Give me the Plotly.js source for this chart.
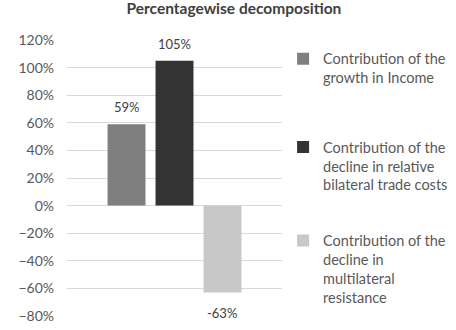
<!DOCTYPE html>
<html>
<head>
<meta charset="utf-8">
<script src="https://cdn.plot.ly/plotly-3.0.1.min.js"></script>
<style>
  html, body { margin: 0; padding: 0; background: #fff; }
  #chart { width: 456px; height: 330px; }
</style>
</head>
<body>
<div id="chart"></div>
<script>
// Percentagewise decomposition of trade growth
const seriesNames = [
  'Contribution of the<br>growth in Income',
  'Contribution of the<br>decline in relative<br>bilateral trade costs',
  'Contribution of the<br>decline in<br>multilateral<br>resistance'
];
const seriesValues = [0.59, 1.05, -0.63];
const seriesLabels = ['59%', '105%', '-63%'];
const seriesColors = ['#7f7f7f', '#333333', '#c8c8c8'];
const yTickValues = [-0.8, -0.6, -0.4, -0.2, 0, 0.2, 0.4, 0.6, 0.8, 1.0, 1.2];

const FONT = 'Lato, "Open Sans", sans-serif';
const legendIds = ['legend', 'legend2', 'legend3'];
const legendTops = [0.99, 0.67, 0.331];

const traces = seriesValues.map((v, i) => ({
  type: 'bar',
  name: seriesNames[i],
  x: [i],
  y: [v],
  width: 0.79,
  marker: { color: seriesColors[i], line: { width: 0 } },
  legend: legendIds[i],
  hoverinfo: 'skip'
}));

const annotations = seriesValues.map((v, i) => ({
  x: i,
  y: v,
  xref: 'x',
  yref: 'y',
  text: seriesLabels[i],
  showarrow: false,
  yanchor: 'middle',
  yshift: v >= 0 ? 17 : -20,
  font: { family: FONT, size: 13, color: '#404040' }
}));

const legendStyle = (top) => ({
  x: 1.005,
  xanchor: 'left',
  y: top,
  yanchor: 'top',
  valign: 'top',
  bgcolor: 'rgba(0,0,0,0)',
  font: { family: FONT, size: 14.5, color: '#595959' },
  itemclick: false,
  itemdoubleclick: false
});

const layout = {
  width: 456,
  height: 330,
  margin: { l: 67, r: 174, t: 40, b: 14, pad: 0, autoexpand: false },
  paper_bgcolor: '#ffffff',
  plot_bgcolor: '#ffffff',
  barmode: 'overlay',
  showlegend: true,
  title: {
    text: '<b>Percentagewise decomposition</b>',
    x: 0.513,
    xanchor: 'center',
    y: 0.973,
    yanchor: 'middle',
    font: { family: FONT, size: 15.5, color: '#404040' }
  },
  xaxis: {
    range: [-1.24, 3.24],
    showgrid: false,
    zeroline: false,
    showticklabels: false,
    ticks: '',
    showline: false,
    fixedrange: true
  },
  yaxis: {
    range: [-0.8, 1.2],
    tickvals: yTickValues,
    tickformat: '.0%',
    showgrid: true,
    gridcolor: '#d9d9d9',
    gridwidth: 1,
    zeroline: true,
    zerolinecolor: '#d9d9d9',
    zerolinewidth: 1,
    showline: false,
    ticks: '',
    ticklabelstandoff: 12,
    tickfont: { family: FONT, size: 14, color: '#595959' },
    fixedrange: true
  },
  legend: legendStyle(legendTops[0]),
  legend2: legendStyle(legendTops[1]),
  legend3: legendStyle(legendTops[2]),
  annotations: annotations
};

Plotly.newPlot('chart', traces, layout, { displayModeBar: false, staticPlot: true });
</script>
</body>
</html>
